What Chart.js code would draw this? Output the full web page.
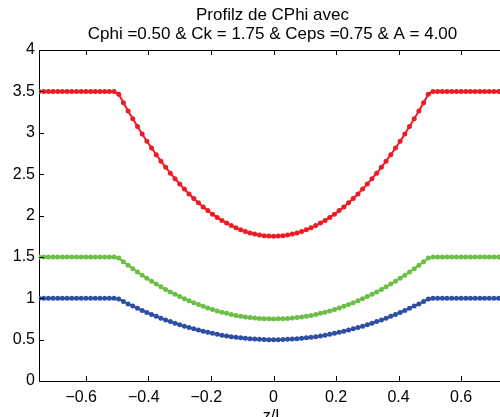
<!DOCTYPE html>
<html>
<head>
<meta charset="utf-8">
<script src="https://cdn.jsdelivr.net/npm/chart.js@4"></script>
<style>
  html, body { margin: 0; padding: 0; overflow: hidden; background: #fff; }
  #wrap { width: 520px; height: 430px; }
</style>
</head>
<body>
<div id="wrap"><canvas id="chart" width="520" height="430"></canvas></div>
<script>
// profile values
const titleLines = ['Profilz de CPhi avec', 'Cphi =0.50 & Ck = 1.75 & Ceps =0.75 & A = 4.00'];
const xTickValues = [-0.6, -0.4, -0.2, 0, 0.2, 0.4, 0.6];

const zValues = [
  -0.750, -0.735, -0.720, -0.705, -0.690, -0.675, -0.660, -0.645, -0.630, -0.615, -0.600,
  -0.585, -0.570, -0.555, -0.540, -0.525, -0.510, -0.495, -0.480, -0.465, -0.450, -0.435,
  -0.420, -0.405, -0.390, -0.375, -0.360, -0.345, -0.330, -0.315, -0.300, -0.285, -0.270,
  -0.255, -0.240, -0.225, -0.210, -0.195, -0.180, -0.165, -0.150, -0.135, -0.120, -0.105,
  -0.090, -0.075, -0.060, -0.045, -0.030, -0.015, 0,
  0.015, 0.030, 0.045, 0.060, 0.075, 0.090, 0.105, 0.120, 0.135, 0.150, 0.165, 0.180,
  0.195, 0.210, 0.225, 0.240, 0.255, 0.270, 0.285, 0.300, 0.315, 0.330, 0.345, 0.360,
  0.375, 0.390, 0.405, 0.420, 0.435, 0.450, 0.465, 0.480, 0.495, 0.510, 0.525, 0.540,
  0.555, 0.570, 0.585, 0.600, 0.615, 0.630, 0.645, 0.660, 0.675, 0.690, 0.705, 0.720,
  0.735, 0.750
];

const redValues = [
  3.5, 3.5, 3.5, 3.5, 3.5, 3.5, 3.5, 3.5, 3.5, 3.5, 3.5, 3.5, 3.5, 3.5, 3.5, 3.5, 3.5,
  3.465, 3.363, 3.264, 3.168, 3.075, 2.985, 2.898, 2.815, 2.734, 2.657, 2.583, 2.512,
  2.445, 2.380, 2.319, 2.260, 2.205, 2.153, 2.104, 2.059, 2.016, 1.977, 1.941, 1.908,
  1.878, 1.851, 1.827, 1.807, 1.789, 1.775, 1.764, 1.756, 1.752, 1.750,
  1.752, 1.756, 1.764, 1.775, 1.789, 1.807, 1.827, 1.851, 1.878, 1.908, 1.941, 1.977,
  2.016, 2.059, 2.104, 2.153, 2.205, 2.260, 2.319, 2.380, 2.445, 2.512, 2.583, 2.657,
  2.734, 2.815, 2.898, 2.985, 3.075, 3.168, 3.264, 3.363, 3.465,
  3.5, 3.5, 3.5, 3.5, 3.5, 3.5, 3.5, 3.5, 3.5, 3.5, 3.5, 3.5, 3.5, 3.5, 3.5, 3.5, 3.5
];

const greenValues = [
  1.5, 1.5, 1.5, 1.5, 1.5, 1.5, 1.5, 1.5, 1.5, 1.5, 1.5, 1.5, 1.5, 1.5, 1.5, 1.5, 1.5,
  1.485, 1.441, 1.399, 1.358, 1.318, 1.279, 1.242, 1.206, 1.172, 1.139, 1.107, 1.077,
  1.048, 1.020, 0.994, 0.969, 0.945, 0.923, 0.902, 0.882, 0.864, 0.847, 0.832, 0.818,
  0.805, 0.793, 0.783, 0.774, 0.767, 0.761, 0.756, 0.753, 0.751, 0.750,
  0.751, 0.753, 0.756, 0.761, 0.767, 0.774, 0.783, 0.793, 0.805, 0.818, 0.832, 0.847,
  0.864, 0.882, 0.902, 0.923, 0.945, 0.969, 0.994, 1.020, 1.048, 1.077, 1.107, 1.139,
  1.172, 1.206, 1.242, 1.279, 1.318, 1.358, 1.399, 1.441, 1.485,
  1.5, 1.5, 1.5, 1.5, 1.5, 1.5, 1.5, 1.5, 1.5, 1.5, 1.5, 1.5, 1.5, 1.5, 1.5, 1.5, 1.5
];

const blueValues = [
  1.0, 1.0, 1.0, 1.0, 1.0, 1.0, 1.0, 1.0, 1.0, 1.0, 1.0, 1.0, 1.0, 1.0, 1.0, 1.0, 1.0,
  0.990, 0.961, 0.932, 0.905, 0.878, 0.853, 0.828, 0.804, 0.781, 0.759, 0.738, 0.718,
  0.698, 0.680, 0.662, 0.646, 0.630, 0.615, 0.601, 0.588, 0.576, 0.565, 0.554, 0.545,
  0.536, 0.529, 0.522, 0.516, 0.511, 0.507, 0.504, 0.502, 0.500, 0.500,
  0.500, 0.502, 0.504, 0.507, 0.511, 0.516, 0.522, 0.529, 0.536, 0.545, 0.554, 0.565,
  0.576, 0.588, 0.601, 0.615, 0.630, 0.646, 0.662, 0.680, 0.698, 0.718, 0.738, 0.759,
  0.781, 0.804, 0.828, 0.853, 0.878, 0.905, 0.932, 0.961, 0.990,
  1.0, 1.0, 1.0, 1.0, 1.0, 1.0, 1.0, 1.0, 1.0, 1.0, 1.0, 1.0, 1.0, 1.0, 1.0, 1.0, 1.0
];

const FAMILY = '"Liberation Sans", Arial, sans-serif';
const FONT = '16px ' + FAMILY;
const TITLE_FONT = '17px ' + FAMILY;

function makeSet(values, color) {
  return {
    data: zValues.map((z, i) => ({ x: z, y: values[i] })),
    borderColor: color,
    backgroundColor: color,
    borderWidth: 2,
    pointRadius: 2.5,
    pointBorderWidth: 0,
    pointBackgroundColor: color,
    tension: 0
  };
}

// matlab-like frame: inward ticks, top border, title, x labels with hanging minus
const matlabFrame = {
  id: 'matlabFrame',
  afterDraw(chart) {
    const ctx = chart.ctx;
    const a = chart.chartArea;
    const xs = chart.scales.x;
    const ys = chart.scales.y;
    ctx.save();
    ctx.strokeStyle = '#000';
    ctx.lineWidth = 1;
    ctx.beginPath();
    ctx.moveTo(a.left, a.top + 0.5);
    ctx.lineTo(a.right, a.top + 0.5);
    ctx.moveTo(a.right - 0.5, a.top);
    ctx.lineTo(a.right - 0.5, a.bottom);
    xTickValues.forEach(v => {
      const px = Math.round(xs.getPixelForValue(v)) + 0.5;
      ctx.moveTo(px, a.bottom);
      ctx.lineTo(px, a.bottom - 5);
      ctx.moveTo(px, a.top);
      ctx.lineTo(px, a.top + 5);
    });
    ys.ticks.forEach(t => {
      const py = Math.round(ys.getPixelForValue(t.value)) + 0.5;
      ctx.moveTo(a.left, py);
      ctx.lineTo(a.left + 5, py);
      ctx.moveTo(a.right, py);
      ctx.lineTo(a.right - 5, py);
    });
    ctx.stroke();

    ctx.fillStyle = '#000';
    ctx.font = FONT;
    ctx.textBaseline = 'alphabetic';
    xTickValues.forEach(v => {
      const px = xs.getPixelForValue(v);
      const s = Math.abs(v) < 1e-9 ? '0' : String(Math.abs(v));
      const w = ctx.measureText(s).width;
      ctx.textAlign = 'center';
      ctx.fillText(s, px, 401.5);
      if (v < 0) {
        ctx.textAlign = 'right';
        ctx.fillText('\u2212', px - w / 2, 401.5);
      }
    });
    ctx.textAlign = 'center';
    ctx.fillText('z/L', xs.getPixelForValue(0), 421);

    ctx.font = TITLE_FONT;
    const cx = (a.left + a.right) / 2 - 1;
    ctx.fillText(titleLines[0], cx, 20);
    ctx.fillText(titleLines[1], cx, 38.5);
    ctx.restore();
  }
};

new Chart(document.getElementById('chart'), {
  type: 'line',
  data: {
    datasets: [
      makeSet(redValues, '#ed1c24'),
      makeSet(greenValues, '#6cbf46'),
      makeSet(blueValues, '#2d4ea3')
    ]
  },
  options: {
    responsive: false,
    animation: false,
    layout: { padding: { left: 0, top: 50, right: 12, bottom: 0 } },
    plugins: {
      legend: { display: false },
      title: { display: false },
      tooltip: { enabled: false }
    },
    scales: {
      x: {
        type: 'linear',
        min: -0.75,
        max: 0.75,
        grid: { display: false, drawTicks: false },
        border: { display: true, color: '#000', width: 1 },
        ticks: { display: false },
        afterFit(scale) { scale.height = 49; }
      },
      y: {
        min: 0,
        max: 4,
        grid: { display: false, drawTicks: false },
        border: { display: true, color: '#000', width: 1 },
        ticks: {
          stepSize: 0.5,
          padding: 4,
          color: '#000',
          font: { family: FAMILY, size: 16 },
          callback: v => String(v)
        },
        afterFit(scale) { scale.width = 39; }
      }
    }
  },
  plugins: [matlabFrame]
});
</script>
</body>
</html>
